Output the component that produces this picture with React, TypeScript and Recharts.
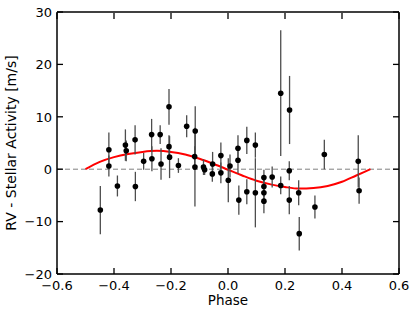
import React from "react";
import {
  ComposedChart,
  ErrorBar,
  Label,
  Line,
  ReferenceLine,
  Scatter,
  XAxis,
  YAxis,
} from "recharts";

// RV residuals folded on phase
const phase = [
  -0.448, -0.418, -0.418, -0.388, -0.36, -0.357, -0.326, -0.325, -0.296, -0.268,
  -0.267, -0.238, -0.235, -0.207, -0.207, -0.205, -0.174, -0.145, -0.115, -0.117,
  -0.116, -0.086, -0.082, -0.054, -0.055, -0.025, -0.025, 0.001, 0.007, 0.035,
  0.035, 0.038, 0.066, 0.066, 0.096, 0.096, 0.126, 0.126, 0.126, 0.126,
  0.155, 0.185, 0.185, 0.216, 0.215, 0.215, 0.248, 0.25, 0.305, 0.338,
  0.457, 0.46,
];
const rv = [
  -7.8, 3.7, 0.6, -3.2, 4.6, 3.5, 5.6, -3.3, 1.5, 6.6,
  2.0, 6.6, 1.0, 11.9, 4.3, 2.3, 0.7, 8.2, 7.3, 2.4,
  0.4, 0.4, -0.1, 1.0, -0.9, 2.6, -0.7, -2.1, 0.6, 4.0,
  1.7, -5.9, 5.5, -4.3, 4.6, -4.5, -1.6, -3.3, -4.5, -6.1,
  -1.5, 14.5, -3.1, 11.3, -0.3, -5.9, -4.5, -12.3, -7.2, 2.8,
  1.5, -4.1,
];
const rvErr = [
  4.6, 3.3, 2.0, 2.0, 3.0, 2.0, 2.8, 2.8, 1.6, 3.0,
  2.4, 1.8, 3.0, 3.4, 2.2, 4.0, 1.4, 2.1, 4.7, 2.0,
  7.5, 1.5, 1.0, 2.3, 1.5, 2.5, 2.0, 4.2, 2.2, 2.5,
  2.5, 2.8, 2.6, 2.4, 2.4, 6.6, 1.5, 2.0, 1.5, 2.3,
  2.0, 12.0, 1.7, 6.5, 1.8, 2.7, 2.4, 3.2, 2.2, 2.8,
  5.0, 2.5,
];

// fitted orbit (red curve)
const modelPhase = [
  -0.5, -0.45, -0.4, -0.35, -0.3, -0.25, -0.2, -0.15, -0.1, -0.05, 0,
  0.05, 0.1, 0.15, 0.2, 0.25, 0.3, 0.35, 0.4, 0.45, 0.5,
];
const modelRv = [
  0, 1.4, 2.3, 2.9, 3.3, 3.5, 3.3, 2.8, 2.0, 1.0, -0.1,
  -1.2, -2.2, -2.9, -3.4, -3.7, -3.6, -3.2, -2.4, -1.2, 0,
];

const xTicks = [-0.6, -0.4, -0.2, 0, 0.2, 0.4, 0.6];
const yTicks = [-20, -10, 0, 10, 20, 30];

const points = phase.map((x, i) => ({ x, y: rv[i], err: rvErr[i] }));
const model = modelPhase.map((x, i) => ({ x, y: modelRv[i] }));

const FONT = "'DejaVu Sans', sans-serif";
const minus = (s: string) => s.replace("-", "\u2212");

const BottomTick = ({ x, y, payload }: any) => (
  <g>
    <line x1={x} x2={x} y1={y} y2={y - 6} stroke="#000" strokeWidth={1.3} />
    <text x={x} y={y + 15.5} textAnchor="middle" fontSize={13} fontFamily={FONT} fill="#000">
      {minus(Number(payload.value).toFixed(1))}
    </text>
  </g>
);

// top axis has height 1, so its line sits at y + 1
const TopTick = ({ x, y }: any) => (
  <line x1={x} x2={x} y1={y + 1} y2={y + 7} stroke="#000" strokeWidth={1.3} />
);

const LeftTick = ({ x, y, payload }: any) => (
  <g>
    <line x1={x} x2={x + 6} y1={y} y2={y} stroke="#000" strokeWidth={1.3} />
    <text x={x - 5} y={y + 4.7} textAnchor="end" fontSize={13} fontFamily={FONT} fill="#000">
      {minus(String(payload.value))}
    </text>
  </g>
);

const RightTick = ({ x, y }: any) => (
  <line x1={x} x2={x - 6} y1={y} y2={y} stroke="#000" strokeWidth={1.3} />
);

const dot = (props: any) => <circle cx={props.cx} cy={props.cy} r={2.8} fill="#000" />;
const noDot = () => <g />;

const frame = { stroke: "#000", strokeWidth: 1.5 };

export default function App() {
  return (
    <div
      style={{
        position: "fixed",
        left: 0,
        top: 0,
        width: 415,
        height: 318,
        background: "#fff",
      }}
    >
      <ComposedChart
        width={415}
        height={318}
        margin={{ top: 11, right: 15, bottom: 0, left: 0 }}
      >
        <XAxis
          xAxisId="main"
          dataKey="x"
          type="number"
          domain={[-0.6, 0.6]}
          ticks={xTicks}
          interval={0}
          height={44}
          tickSize={0}
          tickMargin={0}
          tickLine={false}
          axisLine={frame}
          tick={<BottomTick />}
          allowDataOverflow
        >
          <Label
            content={() => (
              <text x={228} y={305} textAnchor="middle" fontSize={13.5} fontFamily={FONT} fill="#000">
                Phase
              </text>
            )}
          />
        </XAxis>
        <XAxis
          xAxisId="top"
          orientation="top"
          dataKey="x"
          type="number"
          domain={[-0.6, 0.6]}
          ticks={xTicks}
          interval={0}
          height={1}
          tickSize={0}
          tickMargin={0}
          tickLine={false}
          axisLine={frame}
          tick={<TopTick />}
          allowDataOverflow
        />
        <YAxis
          yAxisId="main"
          dataKey="y"
          type="number"
          domain={[-20, 30]}
          ticks={yTicks}
          interval={0}
          width={57}
          tickSize={0}
          tickMargin={0}
          tickLine={false}
          axisLine={frame}
          tick={<LeftTick />}
          allowDataOverflow
        >
          <Label
            content={() => (
              <text
                x={0}
                y={0}
                transform="translate(16,143) rotate(-90)"
                textAnchor="middle"
                fontSize={14}
                fontFamily={FONT}
                fill="#000"
              >
                RV - Stellar Activity [m/s]
              </text>
            )}
          />
        </YAxis>
        <YAxis
          yAxisId="right"
          orientation="right"
          dataKey="y"
          type="number"
          domain={[-20, 30]}
          ticks={yTicks}
          interval={0}
          width={1}
          tickSize={0}
          tickMargin={0}
          tickLine={false}
          axisLine={frame}
          tick={<RightTick />}
          allowDataOverflow
        />
        <ReferenceLine
          xAxisId="main"
          yAxisId="main"
          y={0}
          stroke="#808080"
          strokeDasharray="5 3"
          strokeWidth={1}
        />
        <Line
          xAxisId="main"
          yAxisId="main"
          data={model}
          dataKey="y"
          type="monotone"
          stroke="#ff0000"
          strokeWidth={2}
          dot={false}
          isAnimationActive={false}
        />
        <Scatter
          xAxisId="main"
          yAxisId="main"
          data={points}
          dataKey="y"
          shape={dot}
          isAnimationActive={false}
        >
          <ErrorBar
            dataKey="err"
            direction="y"
            width={0}
            stroke="#4d4d4d"
            strokeWidth={1.3}
            isAnimationActive={false}
          />
        </Scatter>
        {/* invisible series so the top/right frame axes get drawn */}
        <Scatter
          xAxisId="top"
          yAxisId="right"
          data={points}
          dataKey="y"
          shape={noDot}
          legendType="none"
          isAnimationActive={false}
        />
      </ComposedChart>
    </div>
  );
}
